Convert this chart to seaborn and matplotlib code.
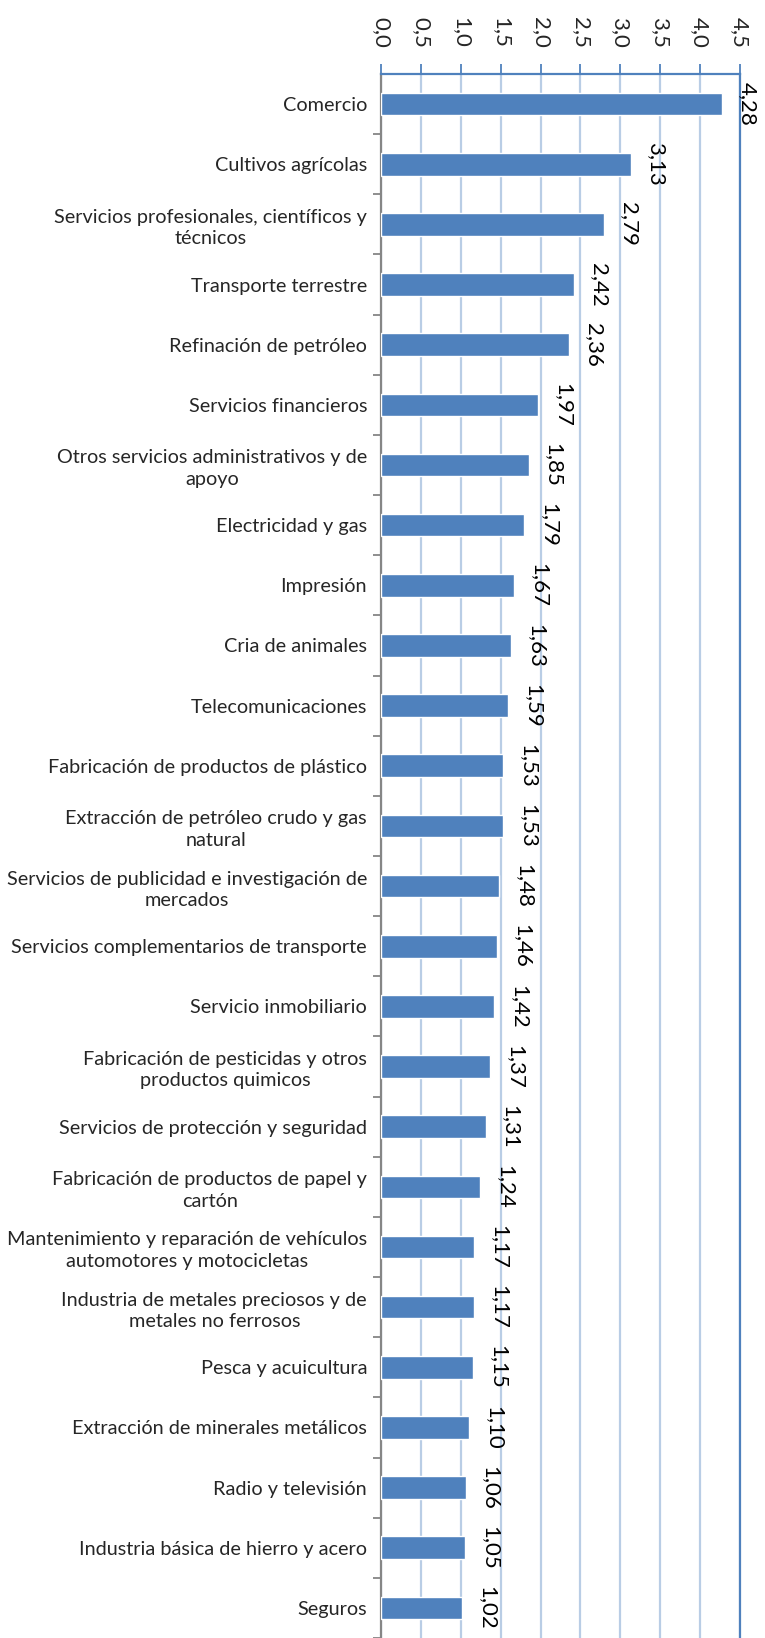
import numpy as np
import pandas as pd
import matplotlib
matplotlib.use('Agg')
import matplotlib.pyplot as plt
import seaborn as sns

# ---------- Dados ----------
sectores = [
    'Comercio',
    'Cultivos agrícolas',
    'Servicios profesionales, científicos y\ntécnicos',
    'Transporte terrestre',
    'Refinación de petróleo',
    'Servicios financieros',
    'Otros servicios administrativos y de\napoyo',
    'Electricidad y gas',
    'Impresión',
    'Cria de animales',
    'Telecomunicaciones',
    'Fabricación de productos de plástico',
    'Extracción de petróleo crudo y gas\nnatural',
    'Servicios de publicidad e investigación de\nmercados',
    'Servicios complementarios de transporte',
    'Servicio inmobiliario',
    'Fabricación de pesticidas y otros\nproductos quimicos',
    'Servicios de protección y seguridad',
    'Fabricación de productos de papel y\ncartón',
    'Mantenimiento y reparación de vehículos\nautomotores y motocicletas',
    'Industria de metales preciosos y de\nmetales no ferrosos',
    'Pesca y acuicultura',
    'Extracción de minerales metálicos',
    'Radio y televisión',
    'Industria básica de hierro y acero',
    'Seguros',
]
valores = [4.28, 3.13, 2.79, 2.42, 2.36, 1.97, 1.85, 1.79, 1.67, 1.63,
           1.59, 1.53, 1.53, 1.48, 1.46, 1.42, 1.37, 1.31, 1.24, 1.17,
           1.17, 1.15, 1.10, 1.06, 1.05, 1.02]
ticks_x = [0.0, 0.5, 1.0, 1.5, 2.0, 2.5, 3.0, 3.5, 4.0, 4.5]

df = pd.DataFrame({'Sector': sectores, 'Valor': valores})

cor_barra = '#4F81BD'
cor_grade = '#B9CDE5'

sns.set_theme(style='white')
plt.rcParams['font.family'] = ['Lato', 'DejaVu Sans']

fig = plt.figure(figsize=(7.65, 16.38), dpi=100)
ax = fig.add_axes([381/765, 0.0, (740-381)/765, 1564/1638])

sns.barplot(data=df, y='Sector', x='Valor', orient='h', color=cor_barra,
            saturation=1, width=0.375, ax=ax, zorder=3)

ax.set_xlim(0, 4.5)
n = len(sectores)
ax.set_ylim(-0.5 + 1564/60.4, -0.5)

# eixo x no topo
ax.xaxis.tick_top()
ax.set_xticks(ticks_x)
ax.set_xticklabels([f'{t:.1f}'.replace('.', ',') for t in ticks_x],
                   rotation=-90, fontsize=16)
ax.tick_params(axis='x', which='major', direction='out', length=7,
               width=1.3, color=cor_barra, pad=12, top=True, bottom=False)
ax.xaxis.grid(True, color=cor_grade, linewidth=1.6, zorder=0)
ax.yaxis.grid(False)
ax.set_xlabel('')
ax.set_ylabel('')

# eixo y: rótulos e marcas entre categorias
ax.set_yticks(range(n))
ax.set_yticklabels(sectores, fontsize=14.3, multialignment='center',
                   linespacing=1.3)
ax.tick_params(axis='y', which='major', length=0, pad=10)
ax.set_yticks(np.arange(n) + 0.5, minor=True)
ax.tick_params(axis='y', which='minor', direction='out', length=6,
               width=1.3, color='#868686', left=True)

for lado in ['top', 'right']:
    ax.spines[lado].set_visible(True)
    ax.spines[lado].set_color(cor_barra)
    ax.spines[lado].set_linewidth(1.6)
ax.spines['left'].set_color('#868686')
ax.spines['left'].set_linewidth(1.6)
ax.spines['bottom'].set_visible(False)

# rótulos de valor
for i, v in enumerate(valores):
    ax.annotate(f'{v:.2f}'.replace('.', ','), xy=(v, i), xytext=(18, 0),
                textcoords='offset points', rotation=-90, ha='center',
                va='center', fontsize=16, color='black',
                annotation_clip=False, zorder=4)

fig.savefig('out.png', dpi=100)
plt.close()
